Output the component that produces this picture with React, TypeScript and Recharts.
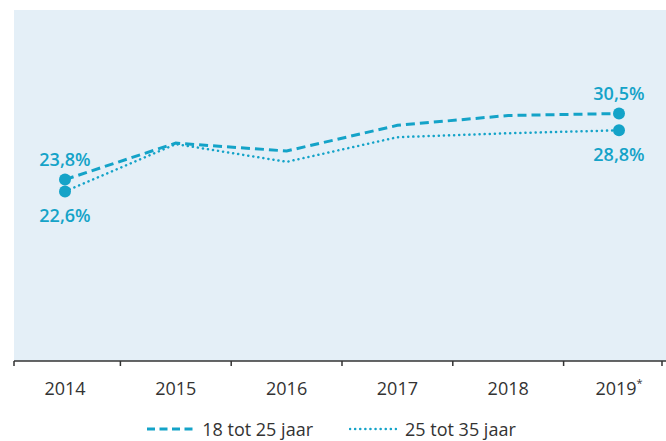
import { LineChart, Line, XAxis, YAxis, CartesianGrid, Legend, LabelList } from 'recharts';

const years = ['2014', '2015', '2016', '2017', '2018', '2019*'];
const young = [23.8, 27.5, 26.7, 29.3, 30.3, 30.5]; // 18 tot 25 jaar
const older = [22.6, 27.4, 25.6, 28.1, 28.5, 28.8]; // 25 tot 35 jaar
const labelsYoung = ['23,8%', '', '', '', '', '30,5%'];
const labelsOlder = ['22,6%', '', '', '', '', '28,8%'];

const data = years.map((year, i) => ({
  year,
  young: young[i],
  older: older[i],
  labelYoung: labelsYoung[i],
  labelOlder: labelsOlder[i],
}));

const TEAL = '#14a3c8';
const TEXT = '#333333';
const FONT = '"Open Sans", "Noto Sans", sans-serif';

const W = 666;
const H = 441;
const M_LEFT = 14;
const PAD_LEFT = 51;
const PAD_RIGHT = 47;
const STEP = (W - M_LEFT - PAD_LEFT - PAD_RIGHT) / (years.length - 1);

const YearTick = (props: any) => {
  const { x, y, payload, index } = props;
  const left = Math.max(M_LEFT, x - STEP / 2);
  const right = Math.min(W - 4, x + STEP / 2);
  const label = String(payload.value);
  const star = label.endsWith('*');
  return (
    <g>
      <line x1={left} x2={left} y1={y} y2={y + 5} stroke={TEXT} strokeWidth={1.5} />
      {index === years.length - 1 && (
        <line x1={right} x2={right} y1={y} y2={y + 5} stroke={TEXT} strokeWidth={1.5} />
      )}
      <text x={x} y={y + 27} textAnchor="middle" dominantBaseline="central" fill={TEXT} fontSize={18} fontFamily={FONT}>
        {star ? label.slice(0, -1) : label}
        {star && <tspan fontSize={11} dy={-6}>*</tspan>}
      </text>
    </g>
  );
};

const endDot = (last: number) => (props: any) => {
  const { cx, cy, index } = props;
  if (index !== 0 && index !== last) return <g key={index} />;
  return <circle key={index} cx={cx} cy={cy} r={6} fill={TEAL} />;
};

const pointLabel = (dy: number) => (props: any) => {
  const { x, y, value } = props;
  if (!value) return null;
  return (
    <text x={x} y={y + dy} textAnchor="middle" dominantBaseline="central" fill={TEAL} fontSize={18} fontWeight={600} fontFamily={FONT}>
      {value}
    </text>
  );
};

const LegendContent = (props: any) => {
  const { payload } = props;
  return (
    <div style={{ display: 'flex', justifyContent: 'center', height: 24, lineHeight: '24px', fontFamily: FONT, fontSize: 18, color: TEXT, paddingRight: 18 }}>
      {payload.map((entry: any, i: number) => (
        <div key={i} style={{ display: 'flex', alignItems: 'center', marginLeft: i ? 36 : 0 }}>
          <svg width={48} height={18} style={{ marginRight: 8 }}>
            <line
              x1={1}
              x2={47}
              y1={9}
              y2={9}
              stroke={TEAL}
              strokeWidth={i ? 2.5 : 3}
              strokeDasharray={i ? '0.1 5' : '8 4.5'}
              strokeLinecap={i ? 'round' : 'butt'}
            />
          </svg>
          <span>{entry.value}</span>
        </div>
      ))}
    </div>
  );
};

export default function App() {
  return (
    <div style={{ position: 'absolute', left: 0, top: 0, background: '#fff' }}>
      <LineChart width={W} height={H} data={data} margin={{ top: 10, right: 0, left: M_LEFT, bottom: 0 }}>
        <CartesianGrid fill="#e4eff7" horizontal={false} vertical={false} />
        <XAxis
          dataKey="year"
          height={56}
          tickLine={false}
          tickSize={0}
          tickMargin={0}
          axisLine={{ stroke: TEXT, strokeWidth: 1.5 }}
          padding={{ left: PAD_LEFT, right: PAD_RIGHT }}
          tick={<YearTick />}
          interval={0}
        />
        <YAxis hide domain={[5.4, 41]} />
        <Legend verticalAlign="bottom" content={<LegendContent />} />
        <Line
          dataKey="young"
          name="18 tot 25 jaar"
          stroke={TEAL}
          strokeWidth={3}
          strokeDasharray="9 5"
          dot={endDot(years.length - 1)}
          activeDot={false}
          isAnimationActive={false}
        >
          <LabelList dataKey="labelYoung" content={pointLabel(-21)} />
        </Line>
        <Line
          dataKey="older"
          name="25 tot 35 jaar"
          stroke={TEAL}
          strokeWidth={2.5}
          strokeDasharray="0.1 5"
          strokeLinecap="round"
          dot={endDot(years.length - 1)}
          activeDot={false}
          isAnimationActive={false}
        >
          <LabelList dataKey="labelOlder" content={pointLabel(24)} />
        </Line>
      </LineChart>
    </div>
  );
}
